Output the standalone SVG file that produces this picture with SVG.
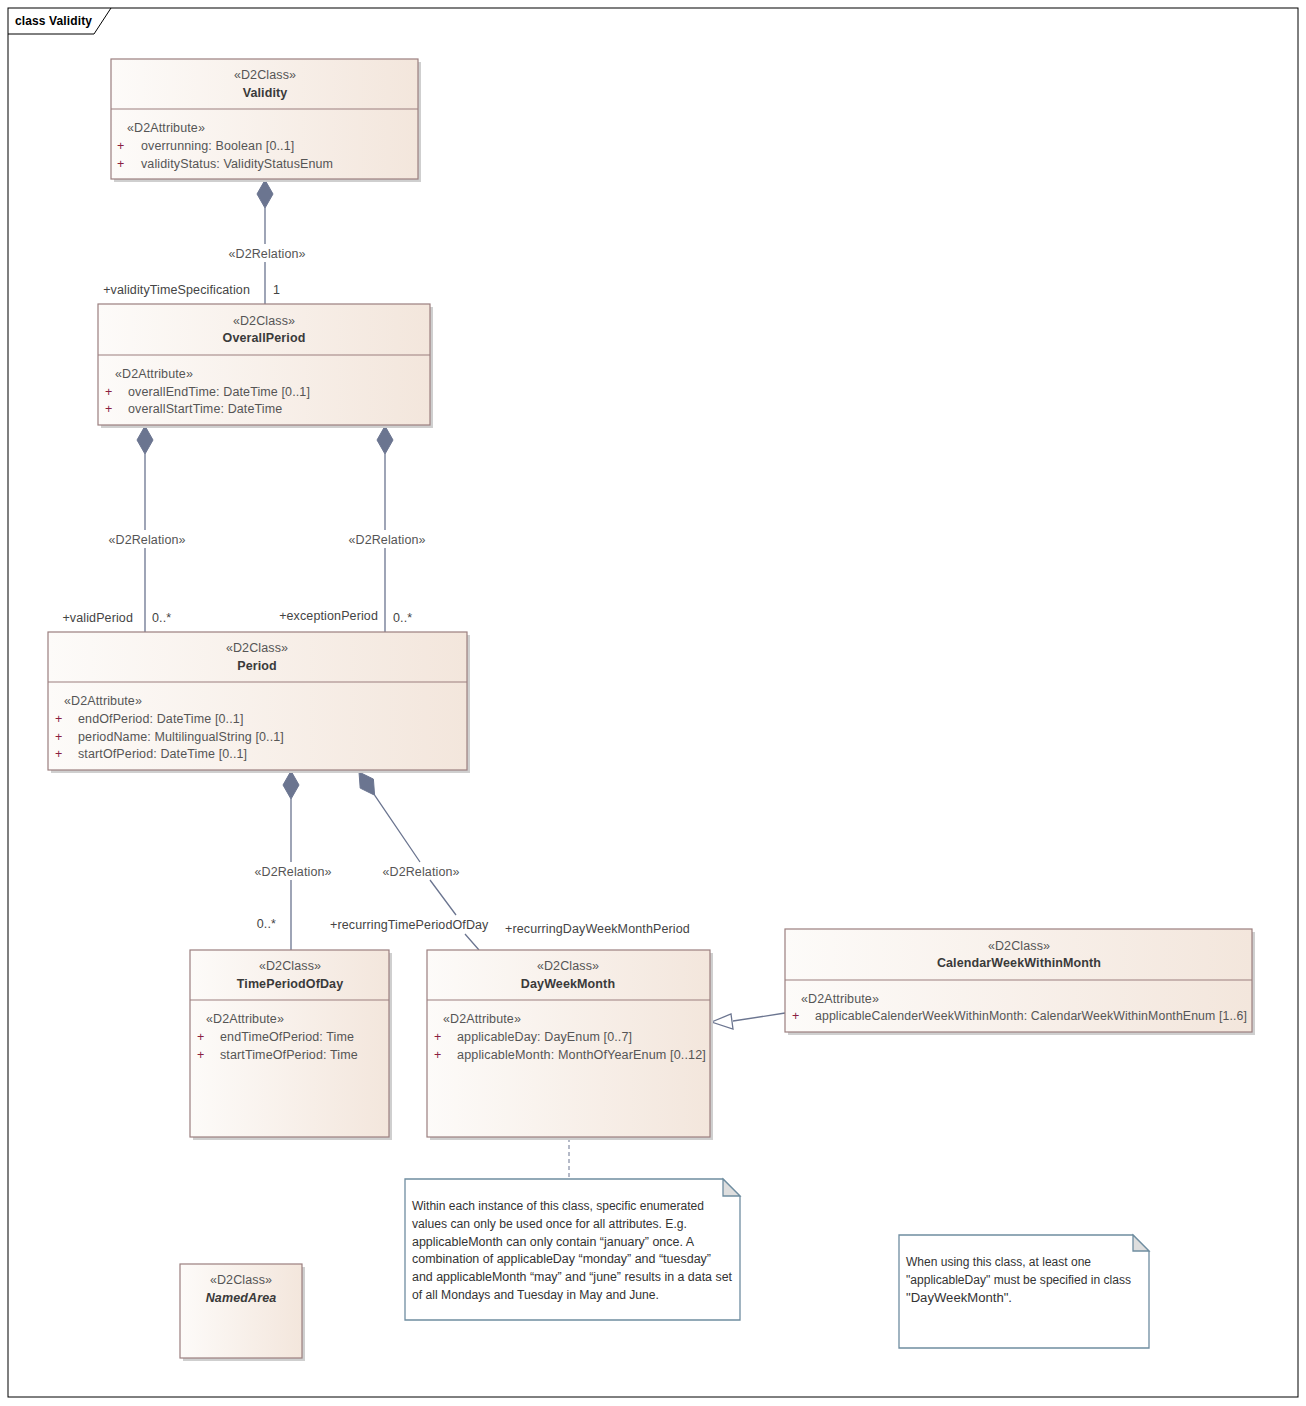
<svg xmlns="http://www.w3.org/2000/svg" width="1306" height="1406" viewBox="0 0 1306 1406">
<defs>
<linearGradient id="g" x1="0" y1="0" x2="1" y2="0">
<stop offset="0" stop-color="#fdfbf9"/>
<stop offset="1" stop-color="#f3e6dc"/>
</linearGradient>
</defs>
<style>
text{font-family:"Liberation Sans",Arial,sans-serif;font-size:12.5px;letter-spacing:0.12px;fill:#3a3a3a}
.box{fill:url(#g);stroke:#9b7f7f;stroke-width:1.2}
.sh{fill:#cfcfcf}
.div{stroke:#9b7f7f;stroke-width:1.2}
.st{fill:#555;text-anchor:middle}
.nm{font-weight:bold;text-anchor:middle;fill:#3a3a3a}
.at{fill:#555}
.pl{fill:#8b2040}
.ln{stroke:#6b7590;stroke-width:1.3;fill:none}
.dm{fill:#6b7590;stroke:#6b7590}
.lb{fill:#444}
.note{fill:#ffffff;stroke:#6f8da0;stroke-width:1.3}
.fold{fill:#dedede;stroke:#6f8da0;stroke-width:1.3}
.nt{fill:#333;font-size:12px;letter-spacing:0}
</style>
<rect x="0" y="0" width="1306" height="1406" fill="#ffffff"/>
<rect x="8" y="8" width="1290" height="1389" fill="none" stroke="#000" stroke-width="1"/>
<path d="M8 34 H94 L111 8" fill="none" stroke="#000" stroke-width="1"/>
<text x="15" y="25" style="font-weight:bold;fill:#000;font-size:12px">class Validity</text>

<g id="connectors">
<path class="ln" d="M265 208 V244 M265 262 V304"/>
<path class="dm" d="M265 180 L273 194 L265 208 L257 194 Z"/>
<text x="267" y="258" class="st">«D2Relation»</text>
<text x="250" y="294" class="lb" text-anchor="end">+validityTimeSpecification</text>
<text x="273" y="294" class="lb">1</text>
<path class="ln" d="M145 454 V530 M145 548 V632"/>
<path class="dm" d="M145 426 L153 440 L145 454 L137 440 Z"/>
<text x="147" y="544" class="st">«D2Relation»</text>
<text x="133" y="622" class="lb" text-anchor="end">+validPeriod</text>
<text x="152" y="622" class="lb">0..*</text>
<path class="ln" d="M385 454 V530 M385 548 V632"/>
<path class="dm" d="M385 426 L393 440 L385 454 L377 440 Z"/>
<text x="387" y="544" class="st">«D2Relation»</text>
<text x="378" y="620" class="lb" text-anchor="end">+exceptionPeriod</text>
<text x="393" y="622" class="lb">0..*</text>
<path class="ln" d="M291 799 V862 M291 880 V950"/>
<path class="dm" d="M291 771 L299 785 L291 799 L283 785 Z"/>
<text x="293" y="876" class="st">«D2Relation»</text>
<text x="276" y="928" class="lb" text-anchor="end">0..*</text>
<text x="330" y="929" class="lb">+recurringTimePeriodOfDay</text>
<path class="ln" d="M374.6 795.2 L420 862 M430 880 L456 915 M465 934 L479 950"/>
<path class="dm" d="M359 772 L373.4 779.1 L374.6 795.2 L360.2 788.1 Z"/>
<text x="421" y="876" class="st">«D2Relation»</text>
<text x="505" y="933" class="lb">+recurringDayWeekMonthPeriod</text>
<path class="ln" d="M733 1021 L785 1013"/>
<path d="M711.5 1022 L731 1014 L733 1029 Z" fill="#fff" stroke="#6b7590" stroke-width="1.3"/>
<path d="M569 1138 V1179" stroke="#6b7590" stroke-width="1" stroke-dasharray="4 3" fill="none"/>
</g>

<g id="Validity">
<rect class="sh" x="114" y="62" width="307" height="120"/>
<rect class="box" x="111" y="59" width="307" height="120"/>
<line class="div" x1="111" y1="109" x2="418" y2="109"/>
<text x="265" y="79" class="st">«D2Class»</text>
<text x="265" y="97" class="nm">Validity</text>
<text x="127" y="132" class="at">«D2Attribute»</text>
<text x="117" y="150" class="pl">+</text>
<text x="141" y="150" class="at">overrunning: Boolean [0..1]</text>
<text x="117" y="168" class="pl">+</text>
<text x="141" y="168" class="at">validityStatus: ValidityStatusEnum</text>
</g>

<g id="OverallPeriod">
<rect class="sh" x="101" y="307" width="332" height="121"/>
<rect class="box" x="98" y="304" width="332" height="121"/>
<line class="div" x1="98" y1="355" x2="430" y2="355"/>
<text x="264" y="325" class="st">«D2Class»</text>
<text x="264" y="342" class="nm">OverallPeriod</text>
<text x="115" y="378" class="at">«D2Attribute»</text>
<text x="105" y="396" class="pl">+</text>
<text x="128" y="396" class="at">overallEndTime: DateTime [0..1]</text>
<text x="105" y="413" class="pl">+</text>
<text x="128" y="413" class="at">overallStartTime: DateTime</text>
</g>

<g id="Period">
<rect class="sh" x="51" y="635" width="419" height="138"/>
<rect class="box" x="48" y="632" width="419" height="138"/>
<line class="div" x1="48" y1="682" x2="467" y2="682"/>
<text x="257" y="652" class="st">«D2Class»</text>
<text x="257" y="670" class="nm">Period</text>
<text x="64" y="705" class="at">«D2Attribute»</text>
<text x="55" y="723" class="pl">+</text>
<text x="78" y="723" class="at">endOfPeriod: DateTime [0..1]</text>
<text x="55" y="741" class="pl">+</text>
<text x="78" y="741" class="at">periodName: MultilingualString [0..1]</text>
<text x="55" y="758" class="pl">+</text>
<text x="78" y="758" class="at">startOfPeriod: DateTime [0..1]</text>
</g>

<g id="TimePeriodOfDay">
<rect class="sh" x="193" y="953" width="199" height="187"/>
<rect class="box" x="190" y="950" width="199" height="187"/>
<line class="div" x1="190" y1="1000" x2="389" y2="1000"/>
<text x="290" y="970" class="st">«D2Class»</text>
<text x="290" y="988" class="nm">TimePeriodOfDay</text>
<text x="206" y="1023" class="at">«D2Attribute»</text>
<text x="197" y="1041" class="pl">+</text>
<text x="220" y="1041" class="at">endTimeOfPeriod: Time</text>
<text x="197" y="1059" class="pl">+</text>
<text x="220" y="1059" class="at">startTimeOfPeriod: Time</text>
</g>

<g id="DayWeekMonth">
<rect class="sh" x="430" y="953" width="283" height="187"/>
<rect class="box" x="427" y="950" width="283" height="187"/>
<line class="div" x1="427" y1="1000" x2="710" y2="1000"/>
<text x="568" y="970" class="st">«D2Class»</text>
<text x="568" y="988" class="nm">DayWeekMonth</text>
<text x="443" y="1023" class="at">«D2Attribute»</text>
<text x="434" y="1041" class="pl">+</text>
<text x="457" y="1041" class="at">applicableDay: DayEnum [0..7]</text>
<text x="434" y="1059" class="pl">+</text>
<text x="457" y="1059" class="at" textLength="249" lengthAdjust="spacingAndGlyphs">applicableMonth: MonthOfYearEnum [0..12]</text>
</g>

<g id="CalendarWeekWithinMonth">
<rect class="sh" x="788" y="932" width="467" height="103"/>
<rect class="box" x="785" y="929" width="467" height="103"/>
<line class="div" x1="785" y1="980" x2="1252" y2="980"/>
<text x="1019" y="950" class="st">«D2Class»</text>
<text x="1019" y="967" class="nm">CalendarWeekWithinMonth</text>
<text x="801" y="1003" class="at">«D2Attribute»</text>
<text x="792" y="1020" class="pl">+</text>
<text x="815" y="1020" class="at" textLength="432" lengthAdjust="spacingAndGlyphs">applicableCalenderWeekWithinMonth: CalendarWeekWithinMonthEnum [1..6]</text>
</g>

<g id="NamedArea">
<rect class="sh" x="183" y="1267" width="122" height="94"/>
<rect class="box" x="180" y="1264" width="122" height="94"/>
<text x="241" y="1284" class="st">«D2Class»</text>
<text x="241" y="1302" class="nm" style="font-style:italic">NamedArea</text>
</g>

<g id="Note1">
<path class="note" d="M405 1179 H723 L740 1196 V1320 H405 Z"/>
<path class="fold" d="M723 1179 V1196 H740 Z"/>
<text class="nt" x="412" y="1210" textLength="292" lengthAdjust="spacingAndGlyphs">Within each instance of this class, specific enumerated</text>
<text class="nt" x="412" y="1228" textLength="275" lengthAdjust="spacingAndGlyphs">values can only be used once for all attributes.  E.g.</text>
<text class="nt" x="412" y="1246" textLength="282" lengthAdjust="spacingAndGlyphs">applicableMonth can only contain “january” once.  A</text>
<text class="nt" x="412" y="1263" textLength="299" lengthAdjust="spacingAndGlyphs">combination of applicableDay “monday” and “tuesday”</text>
<text class="nt" x="412" y="1281" textLength="320" lengthAdjust="spacingAndGlyphs">and applicableMonth “may” and “june” results in a data set</text>
<text class="nt" x="412" y="1299" textLength="247" lengthAdjust="spacingAndGlyphs">of all Mondays and Tuesday in May and June.</text>
</g>

<g id="Note2">
<path class="note" d="M899 1235 H1133 L1149 1251 V1348 H899 Z"/>
<path class="fold" d="M1133 1235 V1251 H1149 Z"/>
<text class="nt" x="906" y="1266" textLength="185" lengthAdjust="spacingAndGlyphs">When using this class, at least one</text>
<text class="nt" x="906" y="1284" textLength="225" lengthAdjust="spacingAndGlyphs">"applicableDay" must be specified in class</text>
<text class="nt" x="906" y="1302" textLength="106" lengthAdjust="spacingAndGlyphs">"DayWeekMonth".</text>
</g>
</svg>
